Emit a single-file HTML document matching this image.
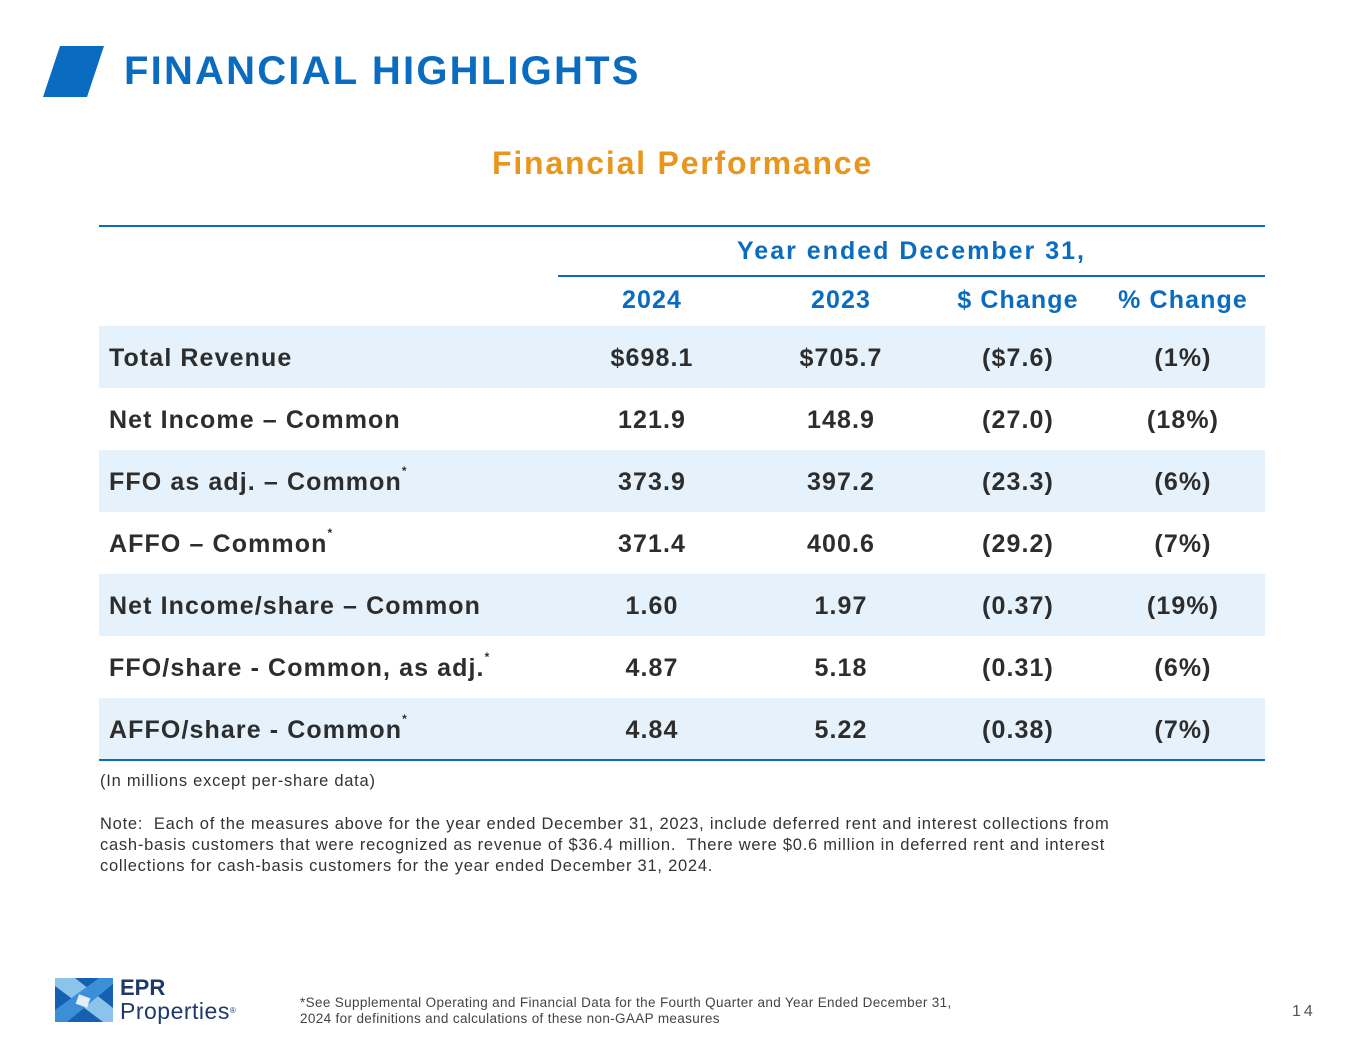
<!DOCTYPE html>
<html><head><meta charset="utf-8"><style>
body{margin:0;width:1365px;height:1055px;background:#fff;position:relative;font-family:"Liberation Sans",sans-serif;overflow:hidden}
.a{position:absolute}
.t{color:#0a6cc0}
.row{position:absolute;left:99px;width:1166px;height:62px}
.row span{position:absolute;top:1px;line-height:62px;font-size:25px;font-weight:bold;color:#2d2d2d;white-space:nowrap;letter-spacing:1.1px}
.c{transform:translateX(-50%)}
.hdr{position:absolute;top:286px;font-size:25px;font-weight:bold;color:#0a6cc0;transform:translateX(-50%);white-space:nowrap;letter-spacing:1.1px}
.note{font-size:16.5px;color:#333;line-height:21px;letter-spacing:0.75px;white-space:nowrap}
</style></head><body>
<svg class="a" style="left:42px;top:46px" width="64" height="52"><polygon points="18,0 62,0 45,51 1,51" fill="#0a6cc0"/></svg>
<div class="a t" style="left:124px;top:49px;font-size:40px;font-weight:bold;letter-spacing:2.2px">FINANCIAL HIGHLIGHTS</div>
<div class="a" style="left:0;width:1365px;text-align:center;top:145px;font-size:32px;font-weight:bold;color:#e8961e;letter-spacing:1.8px">Financial Performance</div>
<div class="a" style="left:99px;top:225px;width:1166px;height:2px;background:#0a6cc0"></div>
<div class="a" style="left:558px;width:707px;top:237px;text-align:center;font-size:25px;font-weight:bold;color:#0a6cc0;letter-spacing:2px">Year ended December 31,</div>
<div class="a" style="left:558px;top:275px;width:707px;height:2px;background:#0a6cc0"></div>
<div class="hdr" style="left:652px">2024</div>
<div class="hdr" style="left:841px">2023</div>
<div class="hdr" style="left:1018px">$ Change</div>
<div class="hdr" style="left:1183px">% Change</div>
<div id="tbl"></div>
<div class="a" style="left:99px;top:759px;width:1166px;height:2px;background:#0a6cc0"></div>
<div class="a note" style="left:100px;top:771px">(In millions except per-share data)</div>
<div class="a note" style="left:100px;top:814px">Note:&nbsp; Each of the measures above for the year ended December 31, 2023, include deferred rent and interest collections from<br>cash-basis customers that were recognized as revenue of $36.4 million.&nbsp; There were $0.6 million in deferred rent and interest<br>collections for cash-basis customers for the year ended December 31, 2024.</div>
<svg class="a" style="left:55px;top:978px" width="58" height="44">
<rect width="58" height="44" rx="3" fill="#1560b0"/>
<polygon points="0,0 20,0 58,30 58,44 48,44 0,8" fill="#8cc3ea"/>
<polygon points="0,44 0,32 44,0 58,0 58,6 12,44" fill="#3a8fd6"/>
<polygon points="22,18 34,18 34,28 22,28" fill="#fff" opacity=".85" transform="rotate(20 28 23)"/></svg>
<div class="a" style="left:120px;top:977px;font-size:22px;font-weight:bold;color:#1d3a6b;line-height:22px">EPR</div>
<div class="a" style="left:120px;top:999px;font-size:23px;color:#1d3a6b;line-height:24px;letter-spacing:0.5px">Properties<span style="font-size:8px;vertical-align:top">®</span></div>
<div class="a" style="left:300px;top:995px;font-size:13.5px;color:#444;line-height:16px;white-space:nowrap;letter-spacing:0.35px">*See Supplemental Operating and Financial Data for the Fourth Quarter and Year Ended December 31,<br>2024 for definitions and calculations of these non-GAAP measures</div>
<div class="a" style="left:1292px;top:1003px;font-size:16px;color:#555;letter-spacing:3px">14</div>
<script>
const labels=["Total Revenue","Net Income – Common","FFO as adj. – Common*","AFFO – Common*","Net Income/share – Common","FFO/share - Common, as adj.*","AFFO/share - Common*"];
const v2024=["$698.1","121.9","373.9","371.4","1.60","4.87","4.84"];
const v2023=["$705.7","148.9","397.2","400.6","1.97","5.18","5.22"];
const dchg=["($7.6)","(27.0)","(23.3)","(29.2)","(0.37)","(0.31)","(0.38)"];
const pchg=["(1%)","(18%)","(6%)","(7%)","(19%)","(6%)","(7%)"];
const tbl=document.getElementById('tbl');
labels.forEach((l,i)=>{
 const r=document.createElement('div');r.className='row';
 
 
 r.style.top=(326+i*62)+'px';
 if(i%2==0)r.style.background='#e6f2fb';
 const lab=l.endsWith('*')?l.slice(0,-1)+'<sup style="position:relative;top:-6px;line-height:0;font-size:12px">*</sup>':l;
 r.innerHTML=`<span style="left:10px">${lab}</span><span class="c" style="left:553px">${v2024[i]}</span><span class="c" style="left:742px">${v2023[i]}</span><span class="c" style="left:919px">${dchg[i]}</span><span class="c" style="left:1084px">${pchg[i]}</span>`;
 tbl.appendChild(r);
});
</script>
</body></html>
